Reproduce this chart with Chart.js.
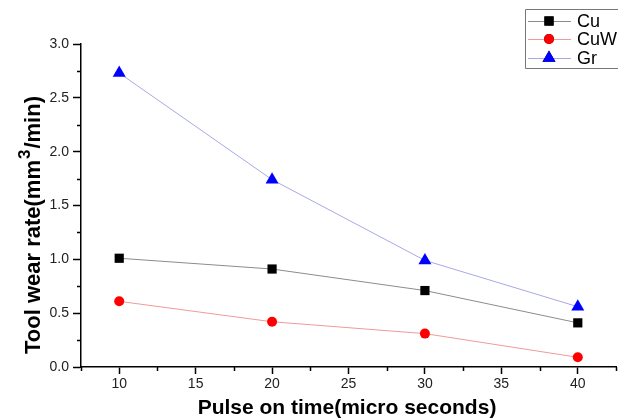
<!DOCTYPE html>
<html>
<head>
<meta charset="utf-8">
<script src="https://cdn.jsdelivr.net/npm/chart.js@4.4.0/dist/chart.umd.min.js"></script>
<style>
html, body { margin: 0; padding: 0; background: #fff; overflow: hidden; }
#wrap { width: 618px; height: 419px; overflow: hidden; position: relative; }
#wrap canvas { position: absolute; left: 0; top: 0; }
</style>
</head>
<body>
<div id="wrap"><canvas id="wearChart" width="618" height="419"></canvas></div>
<script>
// values
const pulseOnTime = [10, 20, 30, 40];
const cuWear = [1.01, 0.91, 0.71, 0.41];
const cuwWear = [0.61, 0.42, 0.31, 0.09];
const grWear = [2.73, 1.74, 0.99, 0.56];
const seriesNames = ['Cu', 'CuW', 'Gr'];
const xRange = [7.5, 42.5];
const yRange = [0, 3];

const FONT = '"Liberation Sans", Arial, sans-serif';

function points(values) {
    return pulseOnTime.map((x, i) => ({ x: x, y: values[i] }));
}

// short unlabelled ticks between the labelled ones
const minorTicks = {
    id: 'minorTicks',
    afterDraw(chart) {
        const ctx = chart.ctx;
        const xs = chart.scales.x, ys = chart.scales.y;
        ctx.save();
        ctx.strokeStyle = '#000';
        ctx.lineWidth = 1.5;
        ctx.beginPath();
        for (let v = xRange[0]; v <= xRange[1] + 1e-9; v += 5) {
            const px = Math.round(xs.getPixelForValue(v)) + 0.5;
            ctx.moveTo(px, ys.bottom);
            ctx.lineTo(px, ys.bottom + 4);
        }
        for (let v = 0.25; v < yRange[1]; v += 0.5) {
            const py = Math.round(ys.getPixelForValue(v)) + 0.5;
            ctx.moveTo(xs.left, py);
            ctx.lineTo(xs.left - 4, py);
        }
        ctx.stroke();
        ctx.restore();
    }
};

// axis titles (with a real superscript) and the boxed legend, cut by the right edge
const titlesAndLegend = {
    id: 'titlesAndLegend',
    afterDraw(chart) {
        const ctx = chart.ctx;
        ctx.save();
        ctx.fillStyle = '#000';

        // x title
        ctx.font = 'bold 21px ' + FONT;
        ctx.textAlign = 'center';
        ctx.textBaseline = 'middle';
        ctx.fillText('Pulse on time(micro seconds)', 347, 408);

        // y title, rotated
        ctx.translate(34, 226);
        ctx.rotate(-Math.PI / 2);
        ctx.textAlign = 'left';
        const a = 'Tool wear rate(mm', b = '3', c = '/min)';
        ctx.font = 'bold 22px ' + FONT;
        const wa = ctx.measureText(a).width, wc = ctx.measureText(c).width;
        ctx.font = 'bold 17px ' + FONT;
        const wb = ctx.measureText(b).width;
        let x0 = -(wa + wb + wc) / 2;
        ctx.font = 'bold 22px ' + FONT;
        ctx.fillText(a, x0, 0);
        ctx.font = 'bold 17px ' + FONT;
        ctx.fillText(b, x0 + wa + 1, -9);
        ctx.font = 'bold 22px ' + FONT;
        ctx.fillText(c, x0 + wa + wb + 2, 0);
        ctx.setTransform(1, 0, 0, 1, 0, 0);

        // legend box: top, left and bottom sides only (the right side is off the picture)
        ctx.strokeStyle = '#777';
        ctx.lineWidth = 1;
        ctx.beginPath();
        ctx.moveTo(700, 9.5);
        ctx.lineTo(525.5, 9.5);
        ctx.lineTo(525.5, 68.5);
        ctx.lineTo(700, 68.5);
        ctx.stroke();
        const rows = [21, 39, 58];
        ctx.font = '18px ' + FONT;
        ctx.textBaseline = 'middle';
        chart.data.datasets.forEach((ds, i) => {
            const y = rows[i];
            ctx.strokeStyle = ds.borderColor;
            ctx.beginPath();
            ctx.moveTo(528, y + 0.5);
            ctx.lineTo(571, y + 0.5);
            ctx.stroke();
            Chart.helpers.drawPoint(ctx, {
                pointStyle: ds.pointStyle, radius: ds.pointRadius, rotation: 0, borderWidth: 0
            }, 549, y);
            ctx.fillStyle = ds.pointBackgroundColor;
            ctx.fill();
            ctx.fillStyle = '#000';
            ctx.fillText(ds.label, 577, y + 1);
        });
        ctx.restore();
    }
};

const wearData = {
    datasets: [{
        label: seriesNames[0],
        data: points(cuWear),
        borderColor: '#8c8c8c',
        borderWidth: 1,
        pointStyle: 'rect',
        pointRadius: 6.5,
        pointBackgroundColor: '#000',
        pointBorderColor: '#000',
        pointBorderWidth: 0
    }, {
        label: seriesNames[1],
        data: points(cuwWear),
        borderColor: '#f09a9a',
        borderWidth: 1,
        pointStyle: 'circle',
        pointRadius: 5,
        pointBackgroundColor: '#ff0000',
        pointBorderColor: '#ff0000',
        pointBorderWidth: 0
    }, {
        label: seriesNames[2],
        data: points(grWear),
        borderColor: '#a8a8e6',
        borderWidth: 1,
        pointStyle: 'triangle',
        pointRadius: 7.5,
        pointBackgroundColor: '#0000ff',
        pointBorderColor: '#0000ff',
        pointBorderWidth: 0
    }]
};

const isMajor = (v, step) => Math.abs(v / step - Math.round(v / step)) < 1e-6;

const configWear = {
    type: 'line',
    data: wearData,
    options: {
        responsive: false,
        animation: false,
        devicePixelRatio: 1,
        layout: { autoPadding: false, padding: { left: 0, top: 44, right: 0, bottom: 0 } },
        plugins: { legend: { display: false }, tooltip: { enabled: false } },
        scales: {
            x: {
                type: 'linear',
                min: xRange[0],
                max: xRange[1],
                afterFit(scale) { scale.height = 52; },
                border: { display: true, color: '#000', width: 1.5 },
                grid: {
                    drawOnChartArea: false,
                    tickLength: 7,
                    tickWidth: 1.5,
                    tickColor: c => (c.tick && isMajor(c.tick.value, 5)) ? '#000' : 'rgba(0,0,0,0)'
                },
                ticks: {
                    stepSize: 2.5,
                    autoSkip: false,
                    maxRotation: 0,
                    padding: 2,
                    color: '#222',
                    font: { family: FONT, size: 14 },
                    callback: v => isMajor(v, 5) ? String(v) : ''
                }
            },
            y: {
                min: yRange[0],
                max: yRange[1],
                afterFit(scale) { scale.width = 81; },
                border: { display: true, color: '#000', width: 1.5 },
                grid: {
                    drawOnChartArea: false,
                    tickLength: 8,
                    tickWidth: 1.5,
                    tickColor: c => (c.tick && isMajor(c.tick.value, 0.5)) ? '#000' : 'rgba(0,0,0,0)'
                },
                ticks: {
                    stepSize: 0.25,
                    autoSkip: false,
                    padding: 4,
                    color: '#222',
                    font: { family: FONT, size: 14 },
                    callback: v => isMajor(v, 0.5) ? v.toFixed(1) : ''
                }
            }
        }
    },
    plugins: [minorTicks, titlesAndLegend]
};

const wearChart = new Chart(document.getElementById('wearChart'), configWear);
</script>
</body>
</html>
